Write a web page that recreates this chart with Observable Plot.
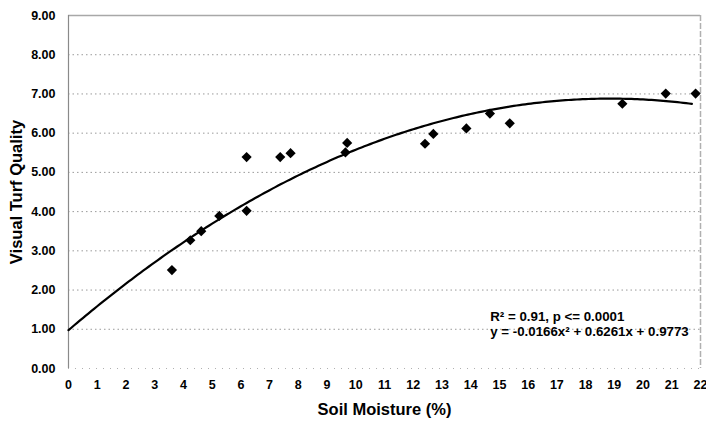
<!DOCTYPE html>
<html>
<head>
<meta charset="utf-8">
<script src="https://cdn.jsdelivr.net/npm/d3@7"></script>
<script src="https://cdn.jsdelivr.net/npm/@observablehq/plot@0.6"></script>
<style>
  html, body { margin: 0; padding: 0; background: #fff; }
  svg { font-family: "Liberation Sans", Arial, sans-serif; }
</style>
</head>
<body>
<div id="chart"></div>
<script>
// Observed points: soil moisture (%) and visual turf quality
const moisture = [3.6, 4.24, 4.62, 5.25, 6.2, 6.2, 7.37, 7.73, 9.64, 9.7, 12.41, 12.7, 13.85, 14.67, 15.36, 19.28, 20.79, 21.83];
const quality  = [2.51, 3.27, 3.50, 3.89, 5.39, 4.02, 5.39, 5.49, 5.51, 5.75, 5.73, 5.98, 6.12, 6.50, 6.25, 6.75, 7.01, 7.01];
// Fitted quadratic, as printed on the chart: y = a x^2 + b x + c
const fitCoef = [-0.0166, 0.6261, 0.9773];
const fitRange = [0, 21.7];
const xTicks = d3.range(0, 23, 1);
const yTicks = d3.range(0, 10, 1);
const noteLines = ["R² = 0.91, p <= 0.0001", "y = -0.0166x² + 0.6261x + 0.9773"];

const points = moisture.map((m, i) => ({x: m, y: quality[i]}));
const fit = d3.range(fitRange[0], fitRange[1] + 1e-9, 0.1).map(x => ({x, y: fitCoef[0]*x*x + fitCoef[1]*x + fitCoef[2]}));

const chart = Plot.plot({
  width: 706,
  height: 421,
  marginLeft: 68,
  marginRight: 6,
  marginTop: 15,
  marginBottom: 53,
  style: {fontFamily: "'Liberation Sans', Arial, sans-serif", fontSize: "12.5px", fontWeight: "bold", color: "#000", background: "#fff"},
  x: {domain: [0, 22]},
  y: {domain: [0, 9]},
  marks: [
    Plot.ruleY(yTicks.filter(d => d > 0 && d < 9), {stroke: "#9a9a9a", strokeDasharray: "1.5,3", strokeWidth: 1}),
    Plot.ruleY([0], {stroke: "#b0b0b0", strokeDasharray: "1,6", strokeWidth: 1}),
    Plot.ruleY([9], {stroke: "#a8a8a8", strokeWidth: 1.5}),
    Plot.ruleX([22], {stroke: "#b0b0b0", strokeWidth: 1.5, strokeDasharray: "6,2"}),
    Plot.ruleX([0], {stroke: "#8a8a8a", strokeWidth: 1.2}),
    Plot.axisX({ticks: xTicks, tickSize: 0, tickPadding: 12, tickFormat: d => String(d), fontSize: 12.5, label: "Soil Moisture (%)", labelAnchor: "center", labelArrow: "none", labelOffset: 46}),
    Plot.axisY({ticks: yTicks, tickSize: 0, tickPadding: 13, tickFormat: d3.format(".2f"), fontSize: 12.5, label: "Visual Turf Quality", labelAnchor: "center", labelArrow: "none", labelOffset: 58}),
    Plot.line(fit, {x: "x", y: "y", stroke: "#000", strokeWidth: 2.2, curve: "linear"}),
    Plot.dot(points, {x: "x", y: "y", symbol: "diamond2", r: 4.6, fill: "#000", stroke: "none"}),
    Plot.text([noteLines[0]], {x: 14.68, y: 1.33, text: d => d, textAnchor: "start", fontSize: 13.3, fontWeight: "bold", fill: "#000"}),
    Plot.text([noteLines[1]], {x: 14.68, y: 0.95, text: d => d, textAnchor: "start", fontSize: 13.3, fontWeight: "bold", fill: "#000"})
  ]
});
// Axis label font size
chart.querySelectorAll("g[aria-label='x-axis label'] text, g[aria-label='y-axis label'] text").forEach(t => { t.setAttribute("font-size", "16.5"); });
document.getElementById("chart").appendChild(chart);
</script>
</body>
</html>
